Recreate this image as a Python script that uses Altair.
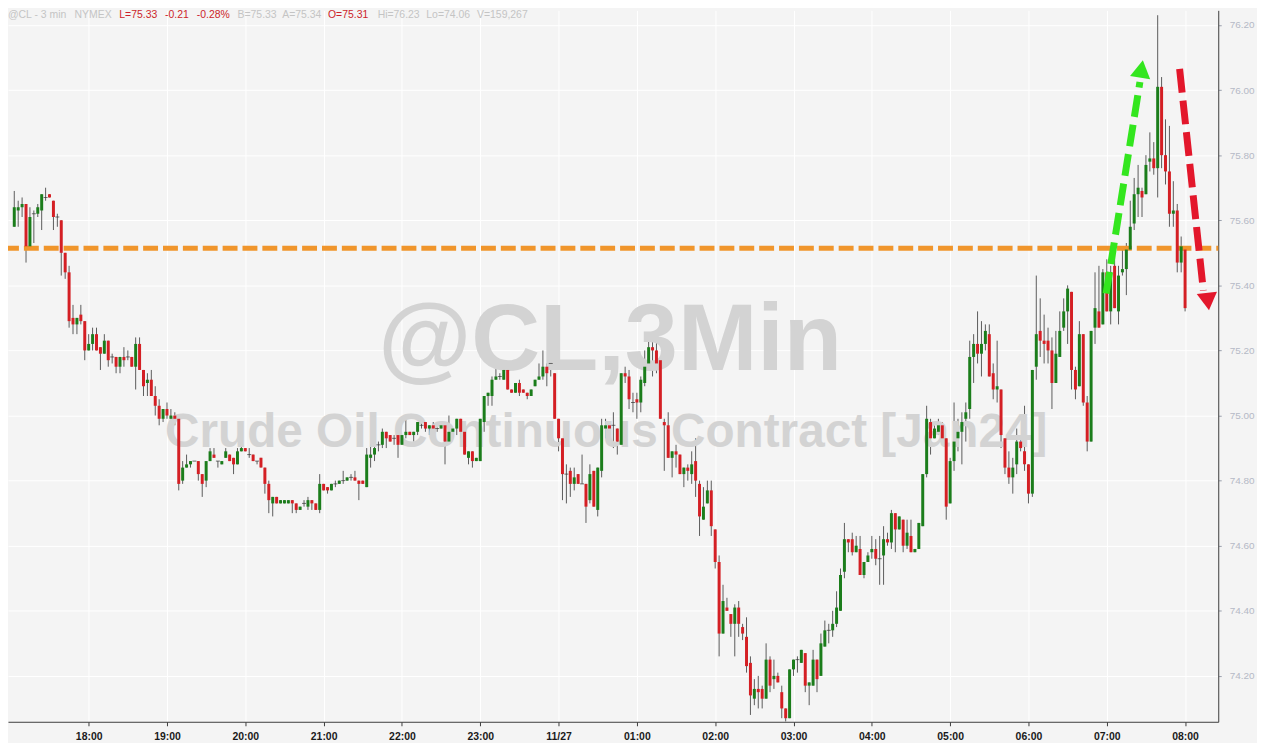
import altair as alt
import pandas as pd

# ---------------- data (3-min bars of @CL) ----------------
opens = [
    75.58,75.63,75.64,75.65,75.52,75.62,75.62,75.63,75.67,75.68,
    75.66,75.61,75.60,75.50,75.44,75.30,75.28,75.31,75.29,75.20,
    75.22,75.25,75.21,75.19,75.23,75.18,75.18,75.15,75.18,75.18,
    75.18,75.15,75.22,75.14,75.10,75.11,75.06,75.03,74.99,75.02,
    74.99,75.00,74.99,74.80,74.84,74.85,74.86,74.86,74.82,74.80,
    74.86,74.88,74.86,74.85,74.87,74.88,74.87,74.85,74.89,74.90,
    74.88,74.88,74.86,74.87,74.84,74.79,74.73,74.75,74.73,74.73,
    74.73,74.74,74.73,74.71,74.73,74.72,74.74,74.73,74.71,74.79,
    74.78,74.77,74.79,74.79,74.80,74.80,74.81,74.81,74.80,74.80,
    74.78,74.87,74.88,74.91,74.91,74.95,74.94,74.93,74.94,74.91,
    74.94,74.95,74.94,74.95,74.97,74.98,74.96,74.97,74.96,74.96,
    74.97,74.92,74.95,74.96,74.99,74.95,74.87,74.89,74.86,74.86,
    74.98,75.06,75.06,75.11,75.12,75.11,75.14,75.08,75.07,75.10,
    75.08,75.07,75.06,75.09,75.11,75.12,75.15,75.16,75.13,74.99,
    74.93,74.82,74.83,74.79,74.82,74.79,74.79,74.74,74.83,74.71,
    74.83,74.96,74.97,74.97,74.96,74.91,75.13,75.12,75.04,75.05,
    75.04,75.10,75.16,75.21,75.20,75.17,74.98,74.97,74.87,74.89,
    74.88,74.82,74.84,74.82,74.86,74.79,74.68,74.73,74.77,74.65,
    74.55,74.33,74.41,74.39,74.36,74.41,74.35,74.32,74.24,74.13,
    74.16,74.16,74.13,74.25,74.19,74.20,74.15,74.10,74.07,74.22,
    74.25,74.24,74.27,74.17,74.17,74.25,74.20,74.29,74.34,74.34,
    74.36,74.40,74.52,74.62,74.62,74.58,74.59,74.51,74.55,74.58,
    74.59,74.56,74.57,74.62,74.61,74.70,74.65,74.68,74.60,74.63,
    74.58,74.59,74.66,74.82,74.98,74.93,74.95,74.97,74.93,74.73,
    74.86,74.93,74.95,74.99,75.02,75.18,75.22,75.19,75.22,75.25,
    75.13,75.08,75.08,74.93,74.84,74.81,74.85,74.92,74.89,74.85,
    74.76,75.15,75.26,75.23,75.23,75.20,75.10,75.18,75.27,75.32,
    75.38,75.14,75.09,75.25,75.04,74.92,75.27,75.32,75.28,75.44,
    75.32,75.46,75.32,75.44,75.45,75.51,75.59,75.68,75.69,75.68,
    75.78,75.79,75.76,76.01,75.80,75.75,75.62,75.63,75.47,75.51,
]
highs = [
    75.69,75.66,75.67,75.65,75.64,75.63,75.65,75.68,75.70,75.68,
    75.66,75.62,75.60,75.50,75.46,75.34,75.30,75.34,75.29,75.25,
    75.27,75.27,75.21,75.25,75.23,75.19,75.18,75.18,75.21,75.20,
    75.18,75.24,75.24,75.14,75.13,75.14,75.09,75.05,75.02,75.04,
    75.02,75.01,74.99,74.86,74.88,74.86,74.86,74.86,74.82,74.86,
    74.90,74.90,74.86,74.86,74.90,74.88,74.87,74.90,74.91,74.90,
    74.90,74.88,74.86,74.87,74.84,74.80,74.75,74.75,74.74,74.74,
    74.74,74.74,74.73,74.72,74.74,74.75,74.74,74.73,74.82,74.79,
    74.78,74.79,74.80,74.80,74.83,74.81,74.82,74.83,74.80,74.80,
    74.90,74.91,74.92,74.92,74.96,74.95,74.94,74.94,74.94,74.94,
    75.00,74.95,74.95,74.98,74.98,74.98,74.97,74.98,74.97,74.97,
    74.97,75.00,74.96,74.99,74.99,74.95,74.89,74.89,74.87,74.99,
    75.06,75.07,75.12,75.17,75.13,75.15,75.14,75.08,75.10,75.11,
    75.08,75.07,75.08,75.11,75.16,75.20,75.16,75.16,75.13,74.99,
    74.93,74.85,74.84,74.84,74.82,74.88,74.79,74.85,74.83,74.84,
    74.99,74.99,74.97,75.01,74.96,75.13,75.15,75.14,75.07,75.07,
    75.12,75.20,75.25,75.23,75.24,75.17,74.99,75.01,74.89,74.91,
    74.88,74.84,74.85,74.89,74.93,74.80,74.78,74.80,74.80,74.65,
    74.57,74.48,74.44,74.39,74.42,74.43,74.36,74.38,74.26,74.19,
    74.20,74.17,74.30,74.26,74.25,74.21,74.17,74.10,74.22,74.25,
    74.26,74.28,74.27,74.18,74.28,74.25,74.33,74.37,74.36,74.40,
    74.46,74.53,74.67,74.62,74.64,74.63,74.63,74.55,74.58,74.63,
    74.62,74.63,74.66,74.64,74.71,74.70,74.69,74.68,74.68,74.68,
    74.59,74.67,74.82,75.03,74.99,74.97,74.99,74.98,74.93,74.87,
    75.04,74.99,75.01,75.04,75.23,75.25,75.32,75.29,75.28,75.28,
    75.16,75.23,75.08,74.93,74.89,74.87,74.96,74.94,75.03,74.85,
    75.14,75.43,75.36,75.31,75.27,75.24,75.26,75.32,75.36,75.40,
    75.38,75.15,75.29,75.25,75.06,75.26,75.44,75.46,75.45,75.48,
    75.46,75.51,75.46,75.51,75.53,75.66,75.73,75.77,75.70,75.80,
    75.87,75.84,76.23,76.04,75.91,75.89,75.72,75.65,75.55,75.51,
]
lows = [
    75.58,75.58,75.61,75.47,75.52,75.53,75.61,75.57,75.66,75.67,
    75.57,75.58,75.43,75.42,75.27,75.25,75.25,75.28,75.17,75.20,
    75.20,75.20,75.14,75.19,75.15,75.16,75.13,75.13,75.15,75.17,
    75.15,75.08,75.14,75.06,75.06,75.06,75.00,74.97,74.98,74.99,
    74.99,74.97,74.77,74.79,74.84,74.84,74.86,74.80,74.75,74.78,
    74.86,74.87,74.84,74.85,74.87,74.86,74.82,74.85,74.89,74.89,
    74.87,74.86,74.85,74.84,74.76,74.70,74.69,74.73,74.73,74.73,
    74.73,74.70,74.70,74.71,74.72,74.71,74.71,74.71,74.70,74.77,
    74.76,74.77,74.78,74.79,74.79,74.80,74.80,74.80,74.74,74.79,
    74.78,74.84,74.86,74.89,74.90,74.90,74.92,74.91,74.87,74.91,
    74.93,74.94,74.92,74.94,74.96,74.95,74.94,74.94,74.95,74.96,
    74.85,74.92,74.95,74.94,74.93,74.88,74.85,74.84,74.86,74.86,
    74.95,75.03,75.03,75.11,75.11,75.11,75.08,75.07,75.07,75.06,
    75.07,75.05,75.06,75.09,75.11,75.11,75.09,75.12,74.99,74.89,
    74.74,74.73,74.75,74.77,74.79,74.79,74.67,74.73,74.72,74.69,
    74.81,74.93,74.96,74.90,74.88,74.91,75.10,75.02,75.01,74.99,
    75.01,75.09,75.14,75.12,75.13,74.99,74.83,74.87,74.81,74.84,
    74.82,74.78,74.80,74.79,74.75,74.63,74.68,74.73,74.63,74.53,
    74.26,74.33,74.40,74.32,74.26,74.32,74.31,74.21,74.08,74.11,
    74.10,74.10,74.13,74.15,74.16,74.18,74.07,74.06,74.07,74.20,
    74.21,74.24,74.15,74.11,74.17,74.15,74.20,74.29,74.30,74.32,
    74.35,74.40,74.50,74.58,74.57,74.58,74.51,74.50,74.55,74.56,
    74.54,74.48,74.48,74.60,74.59,74.58,74.65,74.58,74.59,74.58,
    74.58,74.59,74.66,74.81,74.88,74.93,74.94,74.92,74.68,74.73,
    74.83,74.89,74.85,74.92,74.99,75.10,75.16,75.12,75.20,75.12,
    75.05,75.04,74.90,74.82,74.79,74.76,74.82,74.89,74.83,74.73,
    74.75,75.11,75.18,75.16,75.16,75.02,75.10,75.18,75.26,75.22,
    75.08,75.05,75.09,75.03,74.89,74.92,75.22,75.27,75.28,75.32,
    75.28,75.33,75.28,75.43,75.37,75.51,75.57,75.61,75.61,75.68,
    75.75,75.74,75.67,75.76,75.71,75.58,75.58,75.44,75.44,75.32,
]
closes = [
    75.64,75.64,75.65,75.52,75.61,75.62,75.64,75.68,75.67,75.67,
    75.61,75.61,75.50,75.44,75.29,75.28,75.30,75.29,75.20,75.22,
    75.25,75.20,75.19,75.23,75.17,75.18,75.15,75.18,75.17,75.18,
    75.15,75.22,75.14,75.09,75.11,75.06,75.03,74.99,75.02,75.00,
    75.00,74.99,74.79,74.84,74.85,74.86,74.86,74.82,74.79,74.86,
    74.89,74.87,74.86,74.86,74.89,74.86,74.85,74.89,74.90,74.89,
    74.88,74.86,74.86,74.84,74.79,74.74,74.75,74.73,74.74,74.74,
    74.74,74.73,74.71,74.72,74.73,74.74,74.73,74.71,74.79,74.77,
    74.77,74.79,74.79,74.80,74.80,74.81,74.81,74.80,74.79,74.79,
    74.88,74.88,74.90,74.91,74.95,74.93,74.92,74.93,74.91,74.94,
    74.95,74.94,74.95,74.98,74.97,74.96,74.97,74.96,74.96,74.97,
    74.92,74.95,74.96,74.99,74.95,74.88,74.89,74.86,74.87,74.99,
    75.06,75.07,75.11,75.12,75.12,75.14,75.08,75.07,75.10,75.07,
    75.07,75.06,75.08,75.11,75.12,75.15,75.13,75.16,74.99,74.93,
    74.82,74.82,74.79,74.81,74.79,74.79,74.72,74.82,74.72,74.84,
    74.97,74.97,74.96,74.97,74.92,75.13,75.12,75.05,75.04,75.04,
    75.11,75.15,75.21,75.20,75.16,74.99,74.97,74.87,74.89,74.88,
    74.82,74.84,74.83,74.85,74.80,74.69,74.72,74.77,74.66,74.55,
    74.33,74.43,74.40,74.36,74.41,74.36,74.33,74.23,74.14,74.16,
    74.15,74.13,74.25,74.17,74.20,74.18,74.10,74.07,74.22,74.25,
    74.25,74.28,74.17,74.18,74.25,74.19,74.30,74.34,74.34,74.36,
    74.41,74.51,74.62,74.61,74.58,74.60,74.51,74.55,74.57,74.59,
    74.56,74.56,74.62,74.61,74.70,74.65,74.69,74.60,74.64,74.58,
    74.59,74.67,74.82,74.99,74.93,74.96,74.97,74.93,74.72,74.86,
    74.92,74.95,74.98,75.01,75.18,75.22,75.19,75.22,75.26,75.12,
    75.08,75.09,74.94,74.84,74.81,74.84,74.92,74.90,74.85,74.76,
    75.14,75.25,75.23,75.22,75.20,75.10,75.19,75.26,75.32,75.39,
    75.14,75.08,75.25,75.04,74.92,75.26,75.33,75.27,75.44,75.32,
    75.44,75.33,75.43,75.45,75.51,75.58,75.68,75.70,75.67,75.77,
    75.79,75.76,76.01,75.80,75.75,75.62,75.63,75.47,75.52,75.33,
]

# bar time = minutes after 17:00 (3-minute bars, first bar 17:03)
bar_minutes = [3 + 3 * i for i in range(len(closes))]

support_level = 75.514          # orange dashed line
hour_ticks = list(range(60, 901, 60))   # 18:00 ... 08:00
price_ticks = [74.2, 74.4, 74.6, 74.8, 75.0, 75.2, 75.4, 75.6, 75.8, 76.0, 76.2]

# annotation arrows (minutes, price)
green_arrow = {"m0": [839.5], "p0": [75.375], "m1": [865.4], "p1": [76.025]}
green_head = {"m": [866.6], "p": [76.065]}
red_arrow = {"m0": [895.8], "p0": [76.065], "m1": [914.0], "p1": [75.384]}
red_head = {"m": [917.5], "p": [75.350]}

header_texts = ["@CL - 3 min", "NYMEX", "L=75.33", "-0.21", "-0.28%", "B=75.33",
                "A=75.34", "O=75.31", "Hi=76.23", "Lo=74.06", "V=159,267"]
header_is_red = [False, False, True, True, True, False, False, True, False, False, False]
header_x = [0, 67, 112, 158, 190, 231, 276, 322, 372, 421, 472]

# ---------------- build ----------------
FONT = "Liberation Sans"
BG = "#f4f4f4"
W, H = 1218, 716

direction = ["up" if c > o else ("down" if c < o else "flat") for o, c in zip(opens, closes)]
df = pd.DataFrame({"m": bar_minutes, "open": opens, "high": highs, "low": lows,
                   "close": closes, "dir": direction})

xscale = alt.Scale(domain=[2, 921.6], nice=False, zero=False)
yscale = alt.Scale(domain=[74.059, 76.245], nice=False, zero=False)

label_expr = ("datum.value == 420 ? '11/27' : "
              "(floor((17 + datum.value / 60) % 24) < 10 ? '0' : '') + "
              "floor((17 + datum.value / 60) % 24) + ':00'")

xaxis = alt.Axis(values=hour_ticks, labelExpr=label_expr, title=None, grid=True,
                 gridColor="#ffffff", gridWidth=1, domainColor="#3c3c3c", domainWidth=1,
                 tickColor="#3c3c3c", tickSize=4, labelFont=FONT, labelFontSize=10.5,
                 labelFontWeight="bold", labelColor="#1a1a1a", labelPadding=6,
                 labelFlush=False, labelOverlap=False)
yaxis = alt.Axis(values=price_ticks, format=".2f", orient="right", title=None, grid=True,
                 gridColor="#ffffff", gridWidth=1, domainColor="#3c3c3c", domainWidth=1,
                 tickColor="#9aa0ad", tickSize=3, labelFont=FONT, labelFontSize=10,
                 labelColor="#b4b9c6", labelPadding=8, labelFlush=False, labelOverlap=False)

X = alt.X("m:Q", scale=xscale, axis=xaxis)
Y_low = alt.Y("low:Q", scale=yscale, axis=yaxis)

base = alt.Chart(df)

wicks = base.mark_rule(color="#5c5c5c", strokeWidth=1).encode(
    x=X, y=Y_low, y2="high:Q")

bodies = base.transform_filter("datum.dir != 'flat'").mark_bar(width=3).encode(
    x=alt.X("m:Q", scale=xscale),
    y=alt.Y("open:Q", scale=yscale),
    y2="close:Q",
    color=alt.Color("dir:N", scale=alt.Scale(domain=["up", "down"],
                                             range=["#1b7d1b", "#d41f24"]), legend=None),
)

doji = base.transform_filter("datum.dir == 'flat'").mark_tick(
    thickness=1, size=4, color="#333333", orient="horizontal").encode(
    x=alt.X("m:Q", scale=xscale), y=alt.Y("open:Q", scale=yscale))

support = alt.Chart(pd.DataFrame({"level": [support_level]})).mark_rule(
    color="#f0952b", strokeWidth=5, strokeDash=[15, 5], strokeDashOffset=13).encode(
    y=alt.Y("level:Q", scale=yscale))

wm1 = alt.Chart(pd.DataFrame({"t": ["@CL,3Min"]})).mark_text(
    font=FONT, fontSize=96, fontWeight="bold", color="#d3d3d3", align="center",
    baseline="alphabetic").encode(text="t:N", x=alt.value(606), y=alt.value(362))
wm2 = alt.Chart(pd.DataFrame({"t": ["Crude Oil Continuous Contract [Jan24]"]})).mark_text(
    font=FONT, fontSize=48, fontWeight="bold", color="#d3d3d3", align="center",
    baseline="alphabetic").encode(text="t:N", x=alt.value(602), y=alt.value(439))

header_layers = []
for txt, red, px in zip(header_texts, header_is_red, header_x):
    header_layers.append(
        alt.Chart(pd.DataFrame({"t": [txt]})).mark_text(
            font=FONT, fontSize=10.5, color="#cc1f2a" if red else "#c4c4c4",
            fontWeight="normal", align="left", baseline="top").encode(
            text="t:N", x=alt.value(px), y=alt.value(0)))

g_line = alt.Chart(pd.DataFrame(green_arrow)).mark_rule(
    color="#33e61e", strokeWidth=7, strokeDash=[22, 8], strokeCap="butt").encode(
    x=alt.X("m0:Q", scale=xscale), x2="m1:Q",
    y=alt.Y("p0:Q", scale=yscale), y2="p1:Q")
g_head = alt.Chart(pd.DataFrame(green_head)).mark_point(
    shape="triangle-up", filled=True, size=420, angle=9, color="#33e61e", opacity=1).encode(
    x=alt.X("m:Q", scale=xscale), y=alt.Y("p:Q", scale=yscale))
r_line = alt.Chart(pd.DataFrame(red_arrow)).mark_rule(
    color="#e3172b", strokeWidth=7, strokeDash=[24, 8], strokeCap="butt").encode(
    x=alt.X("m0:Q", scale=xscale), x2="m1:Q",
    y=alt.Y("p0:Q", scale=yscale), y2="p1:Q")
r_head = alt.Chart(pd.DataFrame(red_head)).mark_point(
    shape="triangle-up", filled=True, size=420, angle=173, color="#e3172b", opacity=1).encode(
    x=alt.X("m:Q", scale=xscale), y=alt.Y("p:Q", scale=yscale))

chart = alt.layer(
    wicks, wm1, wm2, support, bodies, doji, g_line, g_head, r_line, r_head, *header_layers
).properties(
    width=W, height=H, background=BG,
    autosize=alt.AutoSizeParams(type="none"),
    padding={"left": 0, "top": 0, "right": 39, "bottom": 19},
).configure_view(stroke=None, fill=BG)

chart.save("out.html", embed_options={"renderer": "svg", "actions": False})
